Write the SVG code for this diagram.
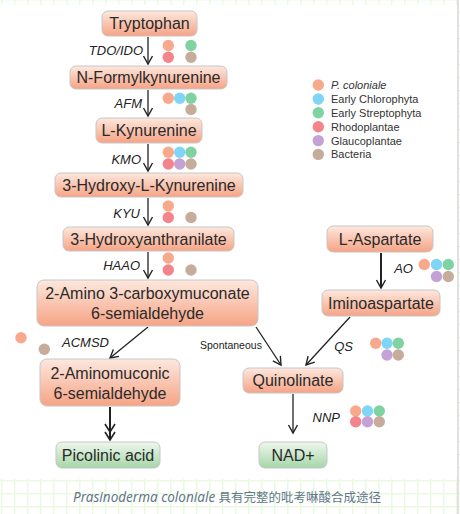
<svg xmlns="http://www.w3.org/2000/svg" width="460" height="514" viewBox="0 0 460 514">
<style>
.node rect{stroke:#c6c6c6;stroke-width:1}
.s rect{fill:url(#gS)}
.g rect{fill:url(#gG)}
.node text{font-family:"Liberation Sans",Arial,sans-serif;font-size:16px;fill:#2a2a2a;text-anchor:middle}
.lbl{font-family:"Liberation Sans",Arial,sans-serif;font-size:13px;font-style:italic;fill:#222;text-anchor:end}
.sp{font-family:"Liberation Sans",Arial,sans-serif;font-size:10.5px;fill:#222}
.leg{font-family:"Liberation Sans",Arial,sans-serif;font-size:11px;fill:#333}
.c1{fill:#f8a98b}.c2{fill:#7ed5f6}.c3{fill:#7fd3a2}.c4{fill:#f4848c}.c5{fill:#c4a2d6}.c6{fill:#c6ad9b}
#edges line{stroke:#222;stroke-width:1.3;fill:none}
#edges line.thick{stroke-width:2}
</style>
<defs>
<pattern id="grid" width="13" height="13" patternUnits="userSpaceOnUse" x="1" y="-1">
<path d="M0.75 0V13M0 0.75H13" stroke="#ebf9e2" stroke-width="1.5" fill="none"/>
</pattern>
<linearGradient id="gS" x1="0" y1="0" x2="0" y2="1">
<stop offset="0" stop-color="#fde8de"/>
<stop offset="1" stop-color="#f6a385"/>
</linearGradient>
<linearGradient id="gG" x1="0" y1="0" x2="0" y2="1">
<stop offset="0" stop-color="#eef8ee"/>
<stop offset="1" stop-color="#a5d6a7"/>
</linearGradient>
<marker id="v" markerUnits="userSpaceOnUse" markerWidth="20" markerHeight="20" viewBox="-10 -10 20 20" refX="0" refY="0" orient="auto" overflow="visible">
<path d="M-8,-4.5L0,0L-8,4.5" fill="none" stroke="#222" stroke-width="1.4"/>
</marker>
<marker id="v2" markerUnits="userSpaceOnUse" markerWidth="20" markerHeight="20" viewBox="-10 -10 20 20" refX="0" refY="0" orient="auto" overflow="visible">
<path d="M-8,-5L0,0L-8,5M-16,-5L-8,0L-16,5" fill="none" stroke="#222" stroke-width="1.6"/>
</marker>
</defs>
<rect x="0" y="0" width="460" height="514" fill="#fff"/>
<rect x="0" y="0" width="460" height="514" fill="url(#grid)"/>
<rect x="0" y="5" width="457" height="474" fill="#fff"/>
<line x1="458" y1="0" x2="458" y2="514" stroke="#d8d8d8" stroke-width="1.5"/>

<g id="edges">
<line x1="148" y1="37" x2="148" y2="64" marker-end="url(#v)"/>
<line x1="148" y1="90" x2="148" y2="116" marker-end="url(#v)"/>
<line x1="148" y1="144" x2="148" y2="171" marker-end="url(#v)"/>
<line x1="148" y1="198" x2="148" y2="225" marker-end="url(#v)"/>
<line x1="148" y1="252" x2="148" y2="278" marker-end="url(#v)"/>
<line x1="148" y1="327" x2="110" y2="358" marker-end="url(#v)"/>
<line x1="256" y1="327" x2="281" y2="365" marker-end="url(#v)"/>
<line x1="350" y1="317" x2="306" y2="365" marker-end="url(#v)"/>
<line class="thick" x1="381" y1="253" x2="381" y2="288" marker-end="url(#v)"/>
<line x1="293" y1="394" x2="293" y2="433" marker-end="url(#v)"/>
<line class="thick" x1="110" y1="407" x2="110" y2="440" marker-end="url(#v2)"/>
</g>

<g id="n-tryptophan" class="node s"><rect x="102" y="11" width="95" height="25" rx="6"/><text x="149.5" y="29">Tryptophan</text></g>
<g id="n-nfk" class="node s"><rect x="70" y="66" width="157" height="23" rx="6"/><text x="148.5" y="83">N-Formylkynurenine</text></g>
<g id="n-lkyn" class="node s"><rect x="96" y="118" width="106" height="25" rx="6"/><text x="149" y="136">L-Kynurenine</text></g>
<g id="n-3hk" class="node s"><rect x="55" y="173" width="188" height="24" rx="6"/><text x="149" y="190.5">3-Hydroxy-L-Kynurenine</text></g>
<g id="n-3ha" class="node s"><rect x="63" y="227" width="171" height="24" rx="6"/><text x="148.5" y="244.5">3-Hydroxyanthranilate</text></g>
<g id="n-acms" class="node s"><rect x="37" y="280" width="221" height="46" rx="7"/><text x="147.5" y="299">2-Amino 3-carboxymuconate</text><text x="147.5" y="319">6-semialdehyde</text></g>
<g id="n-2am" class="node s"><rect x="40" y="359" width="140" height="47" rx="7"/><text x="110" y="379">2-Aminomuconic</text><text x="110" y="399">6-semialdehyde</text></g>
<g id="n-picolinic" class="node g"><rect x="56" y="442" width="104" height="26" rx="6"/><text x="108" y="461">Picolinic acid</text></g>
<g id="n-nad" class="node g"><rect x="259" y="442" width="68" height="26" rx="6"/><text x="293" y="461">NAD+</text></g>
<g id="n-quinolinate" class="node s"><rect x="243" y="368" width="100" height="25" rx="6"/><text x="293" y="386">Quinolinate</text></g>
<g id="n-laspartate" class="node s"><rect x="327" y="226" width="106" height="26" rx="6"/><text x="380" y="245">L-Aspartate</text></g>
<g id="n-iminoaspartate" class="node s"><rect x="322" y="290" width="118" height="26" rx="6"/><text x="381" y="309">Iminoaspartate</text></g>

<g id="labels">
<text class="lbl" x="143" y="55">TDO/IDO</text>
<text class="lbl" x="142" y="108">AFM</text>
<text class="lbl" x="141" y="164">KMO</text>
<text class="lbl" x="140" y="218">KYU</text>
<text class="lbl" x="140" y="270">HAAO</text>
<text class="lbl" x="109" y="347">ACMSD</text>
<text class="sp" x="200" y="349">Spontaneous</text>
<text class="lbl" x="353" y="351">QS</text>
<text class="lbl" x="413" y="273">AO</text>
<text class="lbl" x="340" y="422">NNP</text>
</g>

<g id="dots">
<circle class="c1" cx="168.3" cy="45.5" r="5.7"/><circle class="c3" cx="191" cy="45.5" r="5.7"/><circle class="c4" cx="168.3" cy="57.3" r="5.7"/><circle class="c6" cx="191" cy="57.3" r="5.7"/>
<circle class="c1" cx="168.3" cy="98.3" r="5.7"/><circle class="c2" cx="179.7" cy="98.3" r="5.7"/><circle class="c3" cx="191" cy="98.3" r="5.7"/><circle class="c6" cx="191" cy="109.5" r="5.7"/>
<circle class="c1" cx="168.3" cy="152.3" r="5.7"/><circle class="c2" cx="179.7" cy="152.3" r="5.7"/><circle class="c3" cx="191" cy="152.3" r="5.7"/><circle class="c4" cx="168.3" cy="164" r="5.7"/><circle class="c5" cx="179.7" cy="164" r="5.7"/><circle class="c6" cx="191" cy="164" r="5.7"/>
<circle class="c1" cx="168.3" cy="206" r="5.7"/><circle class="c4" cx="168.3" cy="217.5" r="5.7"/><circle class="c6" cx="191" cy="217.5" r="5.7"/>
<circle class="c1" cx="168.3" cy="258" r="5.7"/><circle class="c4" cx="168.3" cy="270" r="5.7"/><circle class="c6" cx="191" cy="270" r="5.7"/>
<circle class="c1" cx="21" cy="337.7" r="5.7"/><circle class="c6" cx="44.3" cy="349.3" r="5.7"/>
<circle class="c1" cx="424.3" cy="264.5" r="5.7"/><circle class="c2" cx="436.5" cy="264.5" r="5.7"/><circle class="c3" cx="448.3" cy="264.5" r="5.7"/><circle class="c5" cx="436.5" cy="276.5" r="5.7"/><circle class="c6" cx="448.3" cy="276.5" r="5.7"/>
<circle class="c1" cx="375.7" cy="343.3" r="5.7"/><circle class="c2" cx="387" cy="343.3" r="5.7"/><circle class="c3" cx="398.3" cy="343.3" r="5.7"/><circle class="c5" cx="387" cy="355" r="5.7"/><circle class="c6" cx="398.3" cy="355" r="5.7"/>
<circle class="c1" cx="355.7" cy="411" r="5.7"/><circle class="c2" cx="367.5" cy="411" r="5.7"/><circle class="c3" cx="379.3" cy="411" r="5.7"/><circle class="c4" cx="355.7" cy="421.7" r="5.7"/><circle class="c5" cx="367.5" cy="421.7" r="5.7"/><circle class="c6" cx="379.3" cy="421.7" r="5.7"/>
</g>

<g id="legend">
<circle class="c1" cx="318.3" cy="85" r="5.7"/><text class="leg" x="331" y="89" font-style="italic">P. coloniale</text>
<circle class="c2" cx="318.3" cy="99" r="5.7"/><text class="leg" x="331" y="103">Early Chlorophyta</text>
<circle class="c3" cx="318.3" cy="112.8" r="5.7"/><text class="leg" x="331" y="116.8">Early Streptophyta</text>
<circle class="c4" cx="318.3" cy="126.7" r="5.7"/><text class="leg" x="331" y="130.7">Rhodoplantae</text>
<circle class="c5" cx="318.3" cy="140.6" r="5.7"/><text class="leg" x="331" y="144.6">Glaucoplantae</text>
<circle class="c6" cx="318.3" cy="154.4" r="5.7"/><text class="leg" x="331" y="158.4">Bacteria</text>
</g>

<text x="227" y="501.5" text-anchor="middle" font-family="'Noto Sans','Noto Sans CJK SC',sans-serif" font-size="12.5" fill="#627888"><tspan font-style="italic" font-size="13.5">Prasinoderma coloniale</tspan> <tspan font-family="'Noto Sans CJK SC',sans-serif">具有完整的吡考啉酸合成途径</tspan></text>
</svg>
